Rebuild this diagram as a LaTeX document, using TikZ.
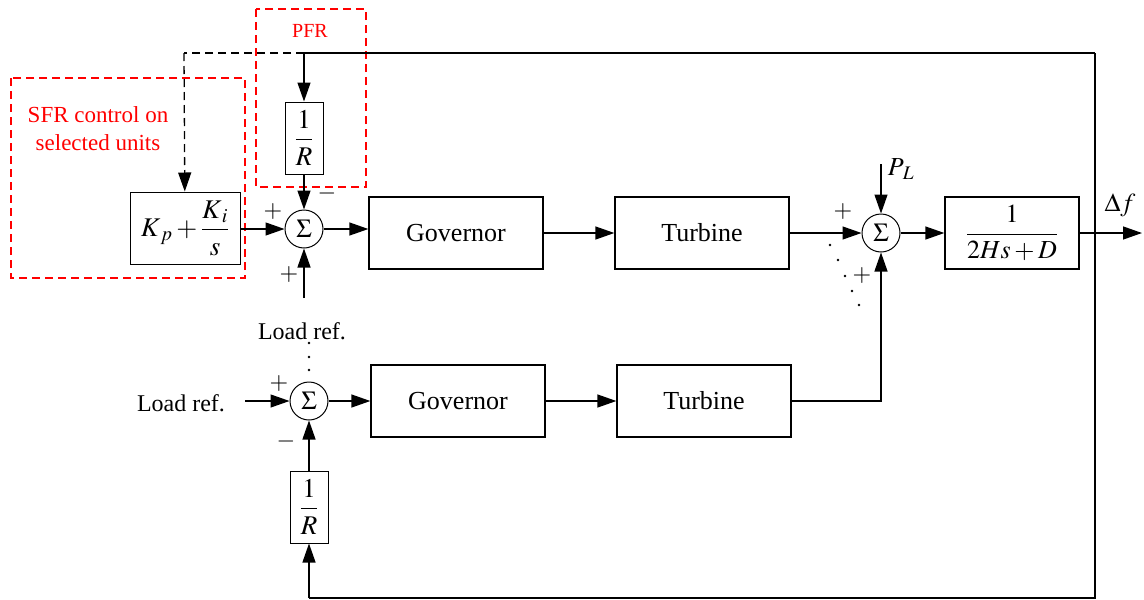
\documentclass[tikz,border=0pt]{standalone}
\usepackage{amsmath}
\usepackage{mathptmx}
\usepackage[no-math]{fontspec}
\setmainfont{Liberation Serif}
\usetikzlibrary{arrows.meta}

\begin{document}
\begin{tikzpicture}[x=1pt,y=-1pt,
    blk/.style={draw,line width=1.3pt,minimum width=174pt,minimum height=72pt,font=\fontsize{26}{30}\selectfont},
    gain/.style={draw,line width=1pt,minimum width=38pt,minimum height=72pt,inner sep=0pt,font=\fontsize{27}{30}\selectfont},
    sumj/.style={draw,circle,line width=1pt,minimum size=38pt,inner sep=0pt,font=\fontsize{26}{30}\selectfont},
    sig/.style={line width=1.3pt},
    arr/.style={sig,-{Triangle[length=19pt,width=13pt]}},
    sgn/.style={font=\fontsize{24}{24}\selectfont},
    zone/.style={draw=red,dash pattern=on 8pt off 5pt,line width=2pt}]
    \useasboundingbox (0,0) rectangle (1144,600);
    % red frames
    \draw[zone] (256,9) rectangle (366,187);
    \draw[zone] (11,78) rectangle (245,278);
    \node[text=red,font=\fontsize{20}{24}\selectfont] (pfr) at (310,31) {PFR};
    \node[text=red,font=\fontsize{23}{28}\selectfont,align=center] (sfr) at (98,129) {SFR control on\\selected units};
    % upper unit
    \node[draw,line width=1pt,minimum width=110pt,minimum height=72pt,inner sep=0pt,font=\fontsize{27}{30}\selectfont] (ctrl) at (185,228) {$K_{\,p}+\dfrac{K_{\,i}}{s}$};
    \node[gain] (r1) at (304,138) {$\dfrac{1\rule[-4pt]{0pt}{4pt}}{\rule{0pt}{22pt}R}$};
    \node[sumj] (s1) at (304,229) {$\Sigma$};
    \node[blk] (gov1) at (456,233) {Governor};
    \node[blk] (tur1) at (702,233) {Turbine};
    % lower unit
    \node[font=\fontsize{24}{28}\selectfont] (lr1) at (181,403) {Load ref.};
    \node[font=\fontsize{24}{28}\selectfont] (lr2) at (302,331) {Load ref.};
    \node[sumj] (s3) at (309,401) {$\Sigma$};
    \node[blk] (gov2) at (458,401) {Governor};
    \node[blk] (tur2) at (704,401) {Turbine};
    \node[gain] (r2) at (309,507) {$\dfrac{1\rule[-4pt]{0pt}{4pt}}{\rule{0pt}{22pt}R}$};
    % system
    \node[sumj] (s2) at (881,233) {$\Sigma$};
    \node[blk,minimum width=134pt] (g) at (1012,233) {$\dfrac{1}{2Hs+D}$};
    \node[font=\fontsize{26}{30}\selectfont,inner sep=0pt] (pltext) at (901,169) {$P_{\,L}$};
    \node[font=\fontsize{26}{30}\selectfont] (dftext) at (1120,205) {$\Delta f$};
    \coordinate (top) at (1095,53);
    \coordinate (tl) at (184,53);
    \coordinate (tr) at (304,53);
    \coordinate (bot) at (1095,598);
    \coordinate (bl) at (309,598);
    \coordinate (out) at (1142,233);
    \coordinate (pl) at (881,164);
    \coordinate (in1) at (304,298);
    \coordinate (in3) at (245,401);
    % connectors
    \draw[arr] (ctrl.east |- s1) -- (s1);
    \draw[arr] (r1) -- (s1);
    \draw[arr] (in1) -- (s1);
    \draw[arr] (s1) -- (s1 -| gov1.west);
    \draw[arr] (gov1) -- (tur1);
    \draw[arr] (tur1) -- (s2);
    \draw[arr] (pl) -- (s2);
    \draw[arr] (s2) -- (g);
    \draw[arr] (g) -- (out);
    \draw[sig] (top) -- (tr);
    \draw[arr] (tr) -- (r1);
    \draw[sig,dash pattern=on 8pt off 5pt] (tr) -- (tl);
    \draw[arr,dash pattern=on 8pt off 5pt] (tl) -- (ctrl);
    \draw[sig] (top) -- (bot) -- (bl);
    \draw[arr] (bl) -- (r2);
    \draw[arr] (r2) -- (s3);
    \draw[arr] (in3) -- (s3);
    \draw[arr] (s3) -- (gov2);
    \draw[arr] (gov2) -- (tur2);
    \draw[arr] (tur2) -| (s2);
    % signs and dots
    \node[sgn] at (273,212) {$+$};
    \node[sgn] at (289,275) {$+$};
    \node[sgn] at (327,193) {$-$};
    \node[sgn] at (843,212) {$+$};
    \node[sgn] at (862,276) {$+$};
    \node[sgn] at (279,384) {$+$};
    \node[sgn] at (286,441) {$-$};
    \foreach \y in {343,357,370} \fill (309,\y) circle (1.3pt);
    \foreach \x/\y in {830/245,838/260,845/276,852/291,859/305} \fill (\x,\y) circle (1.3pt);
\end{tikzpicture}
\end{document}
